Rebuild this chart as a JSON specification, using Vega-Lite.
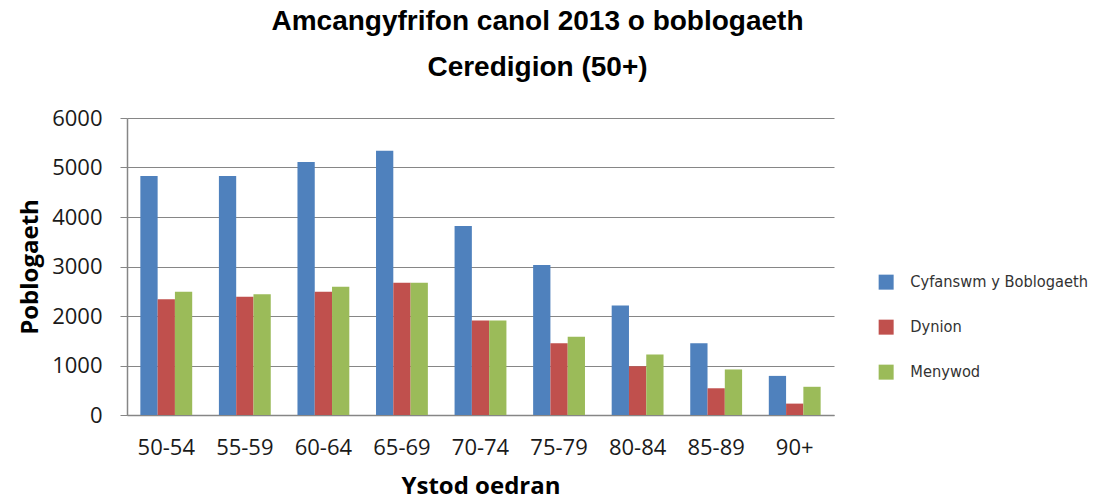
{
  "$schema": "https://vega.github.io/schema/vega-lite/v6.json",
  "width": 707,
  "height": 297,
  "autosize": "none",
  "padding": {"left": 127, "top": 118, "right": 259, "bottom": 84},
  "background": "white",
  "config": {
    "font": "'Open Sans', sans-serif",
    "view": {"stroke": null}
  },
  "title": {
    "text": ["Amcangyfrifon canol 2013 o boblogaeth", "Ceredigion (50+)"],
    "font": "'Liberation Sans', Arial, sans-serif",
    "fontSize": 28,
    "fontWeight": "bold",
    "color": "#000000",
    "lineHeight": 46,
    "anchor": "middle",
    "dx": 57,
    "offset": 25
  },
  "data": {
    "values": [
      {"age": "50-54", "series": "Cyfanswm y Boblogaeth", "value": 4830},
      {"age": "50-54", "series": "Dynion", "value": 2340},
      {"age": "50-54", "series": "Menywod", "value": 2490},
      {"age": "55-59", "series": "Cyfanswm y Boblogaeth", "value": 4830},
      {"age": "55-59", "series": "Dynion", "value": 2390},
      {"age": "55-59", "series": "Menywod", "value": 2440},
      {"age": "60-64", "series": "Cyfanswm y Boblogaeth", "value": 5110},
      {"age": "60-64", "series": "Dynion", "value": 2490},
      {"age": "60-64", "series": "Menywod", "value": 2590},
      {"age": "65-69", "series": "Cyfanswm y Boblogaeth", "value": 5340},
      {"age": "65-69", "series": "Dynion", "value": 2670},
      {"age": "65-69", "series": "Menywod", "value": 2670},
      {"age": "70-74", "series": "Cyfanswm y Boblogaeth", "value": 3820},
      {"age": "70-74", "series": "Dynion", "value": 1910},
      {"age": "70-74", "series": "Menywod", "value": 1910},
      {"age": "75-79", "series": "Cyfanswm y Boblogaeth", "value": 3030},
      {"age": "75-79", "series": "Dynion", "value": 1450},
      {"age": "75-79", "series": "Menywod", "value": 1580},
      {"age": "80-84", "series": "Cyfanswm y Boblogaeth", "value": 2210},
      {"age": "80-84", "series": "Dynion", "value": 985},
      {"age": "80-84", "series": "Menywod", "value": 1220},
      {"age": "85-89", "series": "Cyfanswm y Boblogaeth", "value": 1450},
      {"age": "85-89", "series": "Dynion", "value": 540},
      {"age": "85-89", "series": "Menywod", "value": 920},
      {"age": "90+", "series": "Cyfanswm y Boblogaeth", "value": 790},
      {"age": "90+", "series": "Dynion", "value": 230},
      {"age": "90+", "series": "Menywod", "value": 570}
    ]
  },
  "mark": {"type": "bar"},
  "encoding": {
    "x": {
      "field": "age",
      "type": "nominal",
      "sort": null,
      "title": "Ystod oedran",
      "scale": {"paddingInner": 0.34, "paddingOuter": 0.17},
      "axis": {
        "labelAngle": 0,
        "labelFontSize": 22,
        "labelColor": "#1a1a1a",
        "labelPadding": 22,
        "ticks": false,
        "domainColor": "#868686",
        "domainWidth": 1.5,
        "titleFontSize": 24,
        "titleFontWeight": "bold",
        "titleColor": "#000000",
        "titlePadding": 16
      }
    },
    "xOffset": {"field": "series", "type": "nominal", "sort": null},
    "y": {
      "field": "value",
      "type": "quantitative",
      "title": "Poblogaeth",
      "scale": {"domain": [0, 6000], "nice": false},
      "axis": {
        "values": [0, 1000, 2000, 3000, 4000, 5000, 6000],
        "format": "d",
        "labelFontSize": 22,
        "labelColor": "#1a1a1a",
        "labelPadding": 18,
        "tickSize": 7,
        "tickColor": "#868686",
        "domainColor": "#868686",
        "domainWidth": 1.5,
        "gridColor": "#868686",
        "gridWidth": 1.2,
        "titleFontSize": 24,
        "titleFontWeight": "bold",
        "titleColor": "#000000",
        "titlePadding": 9
      }
    },
    "color": {
      "field": "series",
      "type": "nominal",
      "sort": null,
      "scale": {
        "domain": ["Cyfanswm y Boblogaeth", "Dynion", "Menywod"],
        "range": ["#4F81BD", "#C0504D", "#9BBB59"]
      },
      "legend": {
        "title": null,
        "orient": "none",
        "legendX": 751,
        "legendY": 156,
        "symbolType": "square",
        "symbolSize": 225,
        "symbolStrokeWidth": 0,
        "labelFont": "'DejaVu Sans Condensed', sans-serif",
        "labelFontSize": 16.3,
        "labelLimit": 400,
        "labelColor": "#333333",
        "labelOffset": 16,
        "rowPadding": 28
      }
    }
  }
}
